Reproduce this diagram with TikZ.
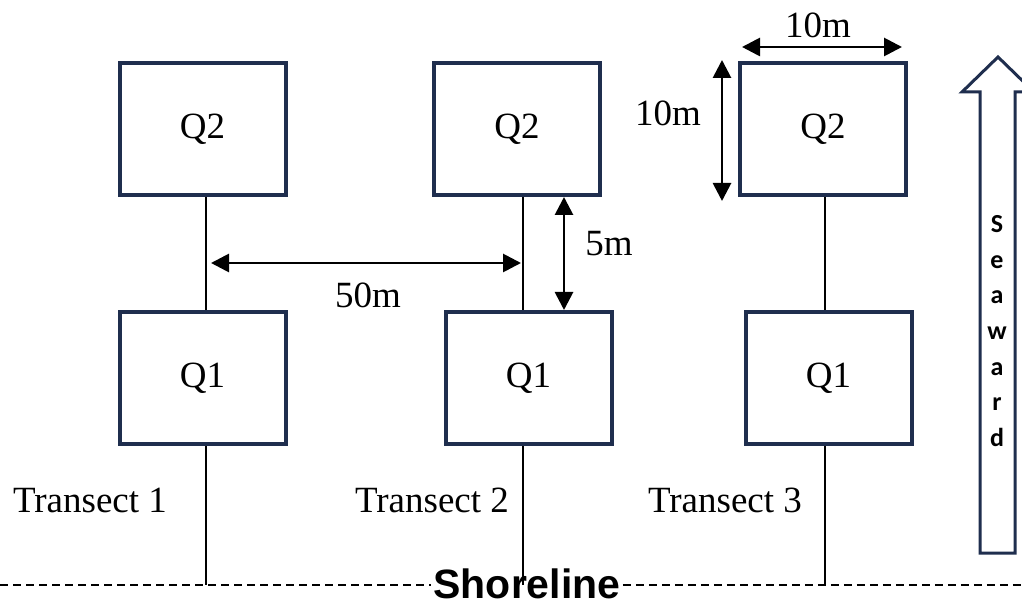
\documentclass[tikz,border=0pt]{standalone}
\usepackage{fontspec}
\setmainfont{Liberation Serif}
\newfontfamily\shorefont{Liberation Sans}
\newfontfamily\seafont{Carlito}
\usetikzlibrary{arrows.meta,calc}
\definecolor{navy}{HTML}{1F2E4E}
\begin{document}
\begin{tikzpicture}[x=0.5pt,y=-0.5pt,
  quad/.style={draw=navy,line width=2pt,fill=white,minimum width=83pt,minimum height=66pt,inner sep=0pt,font=\fontsize{18.5}{22}\selectfont},
  tline/.style={line width=1pt,black},
  dim/.style={line width=1.4pt,{Triangle[length=9pt,width=9pt]}-{Triangle[length=9pt,width=9pt]}},
  lbl/.style={font=\fontsize{18.5}{22}\selectfont,inner sep=0pt},
  shore/.style={line width=1pt,dash pattern=on 4pt off 2.5pt}]
\useasboundingbox (0,0) rectangle (1022,608);
% boxes
\node[quad] (q2a) at (202.5,129) {Q2};
\node[quad] (q2b) at (517,129) {Q2};
\node[quad] (q2c) at (823,129) {Q2};
\node[quad] (q1a) at (202.5,378) {Q1};
\node[quad] (q1b) at (528.5,378) {Q1};
\node[quad] (q1c) at (828.5,378) {Q1};
% shoreline
\node[font=\shorefont\bfseries\fontsize{20.5}{24}\selectfont,inner sep=1pt] (shore) at (527,584) {Shoreline};
\coordinate (sl) at (0,585);
\coordinate (sr) at (1022,585);
\draw[shore] (sl) -- (sl -| shore.west);
\draw[shore] (shore.east |- sr) -- (sr);
% transect lines
\coordinate (t1) at (206,585);
\coordinate (t2) at (523,585);
\coordinate (t3) at (825,585);
\foreach \t/\a/\b in {t1/q2a/q1a,t2/q2b/q1b,t3/q2c/q1c}{
  \draw[tline] (\t |- \a.south) -- (\t |- \b.north);
  \draw[tline] (\t |- \b.south) -- (\t);
}
% transect labels
\node[lbl] (l1) at (90,500) {Transect 1};
\node[lbl] (l2) at (432,500) {Transect 2};
\node[lbl] (l3) at (725,500) {Transect 3};
% 50m
\coordinate (h50) at (0,263);
\draw[dim] ($(t1 |- h50)+(5,0)$) -- ($(t2 |- h50)+(-2,0)$);
\node[lbl] (d50) at (368,295) {50m};
% 5m
\coordinate (v5) at (564,0);
\draw[dim] (v5 |- q2b.south) -- (v5 |- q1b.north);
\node[lbl] (d5) at (609,244) {5m};
% 10m horizontal
\draw[dim] (742,47) coordinate (h10a) -- (902,47) coordinate (h10b);
\node[lbl] (d10h) at (818,25) {10m};
% 10m vertical
\draw[dim] (722,60) coordinate (v10a) -- (722,201) coordinate (v10b);
\node[lbl] (d10v) at (668,113) {10m};
% seaward arrow
\draw[navy,line width=1.5pt,fill=white] (980,553) -- (980,92) -- (962,92) -- (998,57) -- (1034,92) -- (1015,92) -- (1015,553) -- cycle;
\node[font=\seafont\bfseries\fontsize{13}{17.8}\selectfont,align=center,inner sep=0pt] (sea) at (997,331) {S\\e\\a\\w\\a\\r\\d};
\end{tikzpicture}
\end{document}
